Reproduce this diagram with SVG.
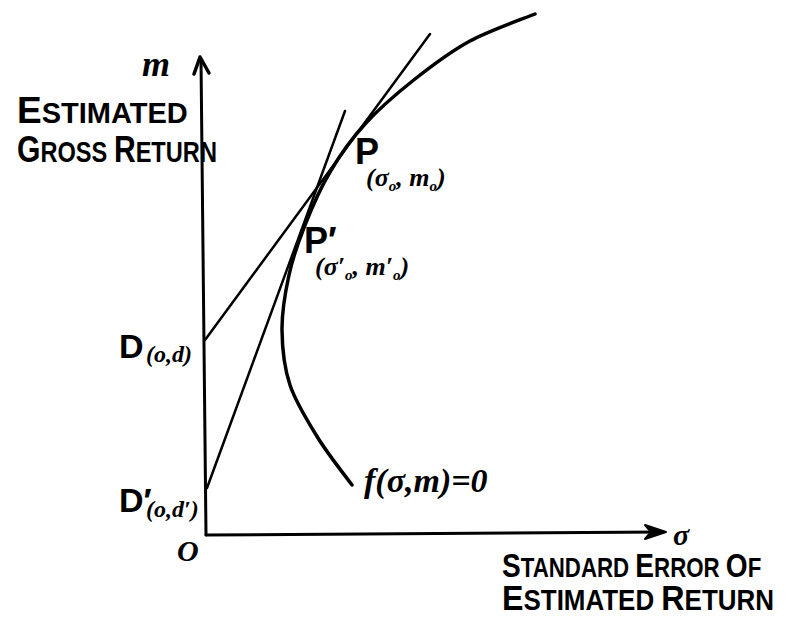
<svg xmlns="http://www.w3.org/2000/svg" width="787" height="621" viewBox="0 0 787 621">
<style>
.cap{font-family:"Liberation Sans",Arial,sans-serif;font-weight:bold;fill:#000}
.math{font-family:"Liberation Serif","Times New Roman",serif;font-style:italic;font-weight:bold;fill:#000}
.ln{fill:none;stroke:#000;stroke-linecap:round;stroke-linejoin:round}
</style>
<rect width="787" height="621" fill="#fff"/>
<g id="axes">
<path class="ln" d="M206,535 L201,60" stroke-width="3"/>
<path class="ln" d="M194,74 L200,57 L209,73" stroke-width="3.5"/>
<path class="ln" d="M206,535 L662,532" stroke-width="3"/>
<path d="M666,532 L645,525 L651,532 L645,539 Z" fill="#000" stroke="#000" stroke-width="2" stroke-linejoin="round"/>
</g>
<g id="connectors">
<path class="ln" d="M205,340 L430,34" stroke-width="2.5"/>
<path class="ln" d="M207,488 L345,111" stroke-width="2.5"/>
</g>
<g id="curve">
<path class="ln" stroke-width="3.5" d="M535,14 C524.2,18.5 490,30.2 470,41 C450,51.8 432.5,65.2 415,79 C397.5,92.8 379.2,108.5 365,124 C350.8,139.5 340,155.2 330,172 C320,188.8 311.8,207.8 305,225 C298.2,242.2 292.8,257.5 289,275 C285.2,292.5 281.8,311.7 282,330 C282.2,348.3 284,367 290,385 C296,403 307.7,421.3 318,438 C328.3,454.7 346.3,477.2 352,485"/>
</g>
<g id="label-m">
<text class="math" x="142" y="76" font-size="36">m</text>
</g>
<g id="label-y-axis">
<text class="cap" transform="translate(17,123)"><tspan font-size="37">E</tspan><tspan font-size="29">STIMATED</tspan></text>
<text class="cap" transform="translate(17,162) scale(0.814,1)"><tspan font-size="37">G</tspan><tspan font-size="29">ROSS </tspan><tspan font-size="37">R</tspan><tspan font-size="29">ETURN</tspan></text>
</g>
<g id="label-x-axis">
<text class="math" x="673" y="545" font-size="30">σ</text>
<text class="cap" transform="translate(502,577) scale(0.825,1)"><tspan font-size="34">S</tspan><tspan font-size="27">TANDARD </tspan><tspan font-size="34">E</tspan><tspan font-size="27">RROR </tspan><tspan font-size="34">O</tspan><tspan font-size="27">F</tspan></text>
<text class="cap" transform="translate(502,610) scale(0.895,1)"><tspan font-size="36">E</tspan><tspan font-size="29">STIMATED </tspan><tspan font-size="36">R</tspan><tspan font-size="29">ETURN</tspan></text>
</g>
<g id="label-origin">
<text class="math" x="177" y="561" font-size="30">O</text>
</g>
<g id="node-P">
<text class="cap" x="355" y="164" font-size="36" font-weight="normal">P</text>
<text class="math" x="366" y="186" font-size="26">(σ<tspan font-size="15" dy="5">o</tspan><tspan dy="-5">, m</tspan><tspan font-size="15" dy="5">o</tspan><tspan dy="-5">)</tspan></text>
</g>
<g id="node-P-prime">
<text class="cap" x="304" y="253" font-size="36" font-weight="normal">P′</text>
<text class="math" x="315" y="275" font-size="26">(σ′<tspan font-size="15" dy="5">o</tspan><tspan dy="-5">, m′</tspan><tspan font-size="15" dy="5">o</tspan><tspan dy="-5">)</tspan></text>
</g>
<g id="node-D">
<text class="cap" x="119" y="358" font-size="34">D</text>
<text class="math" x="146" y="362" font-size="24">(o,d)</text>
</g>
<g id="node-D-prime">
<text class="cap" x="119" y="512" font-size="34">D′</text>
<text class="math" x="146" y="517" font-size="24">(o,d′)</text>
</g>
<g id="label-f">
<text class="math" x="364" y="492" font-size="34">f(σ,m)=0</text>
</g>
</svg>
